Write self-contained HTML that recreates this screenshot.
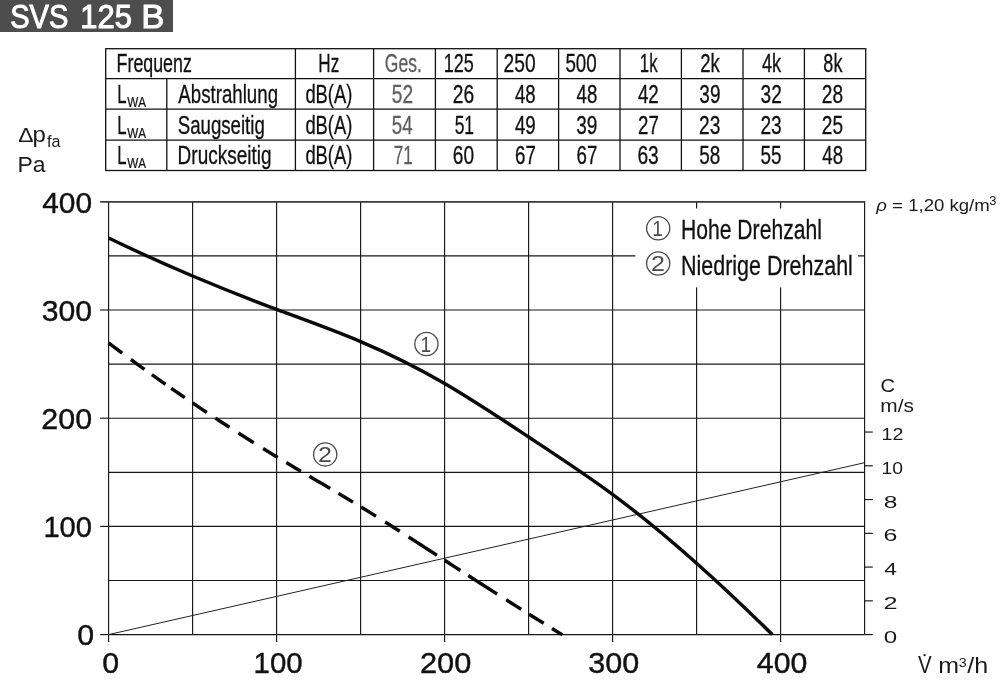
<!DOCTYPE html>
<html lang="de"><head><meta charset="utf-8"><title>SVS 125 B</title>
<style>html,body{margin:0;padding:0;background:#fff}body{width:1000px;height:688px;overflow:hidden}svg{display:block}text{font-family:"Liberation Sans",Arial,Helvetica,sans-serif;font-kerning:none;white-space:pre}</style>
</head><body>
<svg width="1000" height="688" viewBox="0 0 1000 688">
<rect x="0" y="0" width="1000" height="688" fill="#fff"/>
<rect x="0" y="0" width="173" height="32" fill="#4d4d4d"/>
<text y="27.5" font-size="33.5" fill="#fff" stroke="#fff" stroke-width="1.0"><tspan x="10.18" textLength="58.15" lengthAdjust="spacingAndGlyphs">SVS</tspan> <tspan x="80.24" textLength="51.66" lengthAdjust="spacingAndGlyphs">125</tspan> <tspan x="141.15" textLength="23.18" lengthAdjust="spacingAndGlyphs">B</tspan></text>
<g stroke="#111" stroke-width="1.3" fill="none">
<rect x="105.7" y="48.7" width="760.0" height="121.8"/>
<line x1="105.7" y1="78.6" x2="865.7" y2="78.6"/>
<line x1="105.7" y1="109.2" x2="865.7" y2="109.2"/>
<line x1="105.7" y1="140.2" x2="865.7" y2="140.2"/>
<line x1="295.4" y1="48.7" x2="295.4" y2="170.5"/>
<line x1="373.6" y1="48.7" x2="373.6" y2="170.5"/>
<line x1="435.4" y1="48.7" x2="435.4" y2="170.5"/>
<line x1="497.2" y1="48.7" x2="497.2" y2="170.5"/>
<line x1="558.6" y1="48.7" x2="558.6" y2="170.5"/>
<line x1="620" y1="48.7" x2="620" y2="170.5"/>
<line x1="681.4" y1="48.7" x2="681.4" y2="170.5"/>
<line x1="743" y1="48.7" x2="743" y2="170.5"/>
<line x1="804.4" y1="48.7" x2="804.4" y2="170.5"/>
<line x1="166.8" y1="78.6" x2="166.8" y2="170.5"/>
</g>
<text transform="translate(116.59 72.30) scale(0.7125 1)" font-size="25.0" fill="#111" stroke="#111" stroke-width="0.3">Frequenz</text>
<text transform="translate(318.34 72.30) scale(0.6860 1)" font-size="25.0" fill="#111" stroke="#111" stroke-width="0.3">Hz</text>
<text transform="translate(384.87 72.30) scale(0.7004 1)" font-size="25.0" fill="#5e5e5e" stroke="#5e5e5e" stroke-width="0.3">Ges.</text>
<text transform="translate(443.78 72.30) scale(0.7199 1)" font-size="25.0" fill="#111" stroke="#111" stroke-width="0.3">125</text>
<text transform="translate(503.58 72.30) scale(0.7675 1)" font-size="25.0" fill="#111" stroke="#111" stroke-width="0.3">250</text>
<text transform="translate(565.40 72.30) scale(0.7525 1)" font-size="25.0" fill="#111" stroke="#111" stroke-width="0.3">500</text>
<text transform="translate(639.87 72.30) scale(0.6725 1)" font-size="25.0" fill="#111" stroke="#111" stroke-width="0.3">1k</text>
<text transform="translate(700.22 72.30) scale(0.7426 1)" font-size="25.0" fill="#111" stroke="#111" stroke-width="0.3">2k</text>
<text transform="translate(761.93 72.30) scale(0.7307 1)" font-size="25.0" fill="#111" stroke="#111" stroke-width="0.3">4k</text>
<text transform="translate(823.37 72.30) scale(0.7218 1)" font-size="25.0" fill="#111" stroke="#111" stroke-width="0.3">8k</text>
<text transform="translate(117.27 103.10) scale(0.6713 1)" font-size="25.0" fill="#111" stroke="#111" stroke-width="0.3">L</text>
<text transform="translate(127.27 106.90) scale(0.7791 1)" font-size="15" fill="#111" stroke="#111" stroke-width="0.25">WA</text>
<text transform="translate(178.31 103.10) scale(0.7476 1)" font-size="25.0" fill="#111" stroke="#111" stroke-width="0.3">Abstrahlung</text>
<text transform="translate(305.38 103.10) scale(0.7357 1)" font-size="25.0" fill="#111" stroke="#111" stroke-width="0.3">dB(A)</text>
<text transform="translate(391.79 103.10) scale(0.7632 1)" font-size="25.0" fill="#5e5e5e" stroke="#5e5e5e" stroke-width="0.3">52</text>
<text transform="translate(452.79 103.10) scale(0.7662 1)" font-size="25.0" fill="#111" stroke="#111" stroke-width="0.3">26</text>
<text transform="translate(514.92 103.10) scale(0.7458 1)" font-size="25.0" fill="#111" stroke="#111" stroke-width="0.3">48</text>
<text transform="translate(576.52 103.10) scale(0.7458 1)" font-size="25.0" fill="#111" stroke="#111" stroke-width="0.3">48</text>
<text transform="translate(637.92 103.10) scale(0.7507 1)" font-size="25.0" fill="#111" stroke="#111" stroke-width="0.3">42</text>
<text transform="translate(699.33 103.10) scale(0.7596 1)" font-size="25.0" fill="#111" stroke="#111" stroke-width="0.3">39</text>
<text transform="translate(760.62 103.10) scale(0.7618 1)" font-size="25.0" fill="#111" stroke="#111" stroke-width="0.3">32</text>
<text transform="translate(821.79 103.10) scale(0.7658 1)" font-size="25.0" fill="#111" stroke="#111" stroke-width="0.3">28</text>
<text transform="translate(117.27 133.80) scale(0.6713 1)" font-size="25.0" fill="#111" stroke="#111" stroke-width="0.3">L</text>
<text transform="translate(127.27 137.60) scale(0.7791 1)" font-size="15" fill="#111" stroke="#111" stroke-width="0.25">WA</text>
<text transform="translate(177.70 133.80) scale(0.7465 1)" font-size="25.0" fill="#111" stroke="#111" stroke-width="0.3">Saugseitig</text>
<text transform="translate(305.38 133.80) scale(0.7357 1)" font-size="25.0" fill="#111" stroke="#111" stroke-width="0.3">dB(A)</text>
<text transform="translate(391.80 133.80) scale(0.7479 1)" font-size="25.0" fill="#5e5e5e" stroke="#5e5e5e" stroke-width="0.3">54</text>
<text transform="translate(454.65 133.80) scale(0.6996 1)" font-size="25.0" fill="#111" stroke="#111" stroke-width="0.3">51</text>
<text transform="translate(514.92 133.80) scale(0.7486 1)" font-size="25.0" fill="#111" stroke="#111" stroke-width="0.3">49</text>
<text transform="translate(576.23 133.80) scale(0.7596 1)" font-size="25.0" fill="#111" stroke="#111" stroke-width="0.3">39</text>
<text transform="translate(638.01 133.80) scale(0.7472 1)" font-size="25.0" fill="#111" stroke="#111" stroke-width="0.3">27</text>
<text transform="translate(699.09 133.80) scale(0.7662 1)" font-size="25.0" fill="#111" stroke="#111" stroke-width="0.3">23</text>
<text transform="translate(760.39 133.80) scale(0.7662 1)" font-size="25.0" fill="#111" stroke="#111" stroke-width="0.3">23</text>
<text transform="translate(821.79 133.80) scale(0.7647 1)" font-size="25.0" fill="#111" stroke="#111" stroke-width="0.3">25</text>
<text transform="translate(117.27 164.40) scale(0.6713 1)" font-size="25.0" fill="#111" stroke="#111" stroke-width="0.3">L</text>
<text transform="translate(127.27 168.20) scale(0.7791 1)" font-size="15" fill="#111" stroke="#111" stroke-width="0.25">WA</text>
<text transform="translate(177.59 164.40) scale(0.7601 1)" font-size="25.0" fill="#111" stroke="#111" stroke-width="0.3">Druckseitig</text>
<text transform="translate(305.38 164.40) scale(0.7357 1)" font-size="25.0" fill="#111" stroke="#111" stroke-width="0.3">dB(A)</text>
<text transform="translate(393.87 164.40) scale(0.6837 1)" font-size="25.0" fill="#5e5e5e" stroke="#5e5e5e" stroke-width="0.3">71</text>
<text transform="translate(452.78 164.40) scale(0.7629 1)" font-size="25.0" fill="#111" stroke="#111" stroke-width="0.3">60</text>
<text transform="translate(515.00 164.40) scale(0.7476 1)" font-size="25.0" fill="#111" stroke="#111" stroke-width="0.3">67</text>
<text transform="translate(576.60 164.40) scale(0.7476 1)" font-size="25.0" fill="#111" stroke="#111" stroke-width="0.3">67</text>
<text transform="translate(637.38 164.40) scale(0.7665 1)" font-size="25.0" fill="#111" stroke="#111" stroke-width="0.3">63</text>
<text transform="translate(699.29 164.40) scale(0.7582 1)" font-size="25.0" fill="#111" stroke="#111" stroke-width="0.3">58</text>
<text transform="translate(760.59 164.40) scale(0.7571 1)" font-size="25.0" fill="#111" stroke="#111" stroke-width="0.3">55</text>
<text transform="translate(822.32 164.40) scale(0.7458 1)" font-size="25.0" fill="#111" stroke="#111" stroke-width="0.3">48</text>
<g stroke="#161616" stroke-width="1.15" fill="none">
<line x1="108.60" y1="201.8" x2="108.60" y2="634.6"/>
<line x1="192.60" y1="201.8" x2="192.60" y2="634.6"/>
<line x1="276.60" y1="201.8" x2="276.60" y2="634.6"/>
<line x1="360.60" y1="201.8" x2="360.60" y2="634.6"/>
<line x1="444.60" y1="201.8" x2="444.60" y2="634.6"/>
<line x1="528.60" y1="201.8" x2="528.60" y2="634.6"/>
<line x1="612.60" y1="201.8" x2="612.60" y2="634.6"/>
<line x1="696.60" y1="201.8" x2="696.60" y2="634.6"/>
<line x1="780.60" y1="201.8" x2="780.60" y2="634.6"/>
<line x1="864.60" y1="201.8" x2="864.60" y2="634.6"/>
<line x1="108.6" y1="634.60" x2="864.6" y2="634.60"/>
<line x1="108.6" y1="580.50" x2="864.6" y2="580.50"/>
<line x1="108.6" y1="526.40" x2="864.6" y2="526.40"/>
<line x1="108.6" y1="472.30" x2="864.6" y2="472.30"/>
<line x1="108.6" y1="418.20" x2="864.6" y2="418.20"/>
<line x1="108.6" y1="364.10" x2="864.6" y2="364.10"/>
<line x1="108.6" y1="310.00" x2="864.6" y2="310.00"/>
<line x1="108.6" y1="255.90" x2="864.6" y2="255.90"/>
<line x1="100.2" y1="634.60" x2="108.6" y2="634.60"/>
<line x1="100.2" y1="526.40" x2="108.6" y2="526.40"/>
<line x1="100.2" y1="418.20" x2="108.6" y2="418.20"/>
<line x1="100.2" y1="310.00" x2="108.6" y2="310.00"/>
<line x1="108.60" y1="634.6" x2="108.60" y2="642"/>
<line x1="276.60" y1="634.6" x2="276.60" y2="642"/>
<line x1="444.60" y1="634.6" x2="444.60" y2="642"/>
<line x1="612.60" y1="634.6" x2="612.60" y2="642"/>
<line x1="780.60" y1="634.6" x2="780.60" y2="642"/>
<line x1="864.6" y1="634.60" x2="872.8" y2="634.60"/>
<line x1="864.6" y1="600.84" x2="872.8" y2="600.84"/>
<line x1="864.6" y1="567.08" x2="872.8" y2="567.08"/>
<line x1="864.6" y1="533.32" x2="872.8" y2="533.32"/>
<line x1="864.6" y1="499.56" x2="872.8" y2="499.56"/>
<line x1="864.6" y1="465.80" x2="872.8" y2="465.80"/>
<line x1="864.6" y1="432.04" x2="872.8" y2="432.04"/>
</g>
<line x1="100.2" y1="201.8" x2="865.15" y2="201.8" stroke="#3a3a3a" stroke-width="1.8"/>
<line x1="108.6" y1="634.6" x2="864.6" y2="462.7" stroke="#222" stroke-width="1"/>
<rect x="635.4" y="208.5" width="222.6" height="78.9" fill="#fff"/>
<path d="M108.60,238.00 C136.60,251.55 164.60,264.16 192.60,276.00 C220.60,287.84 248.60,298.92 276.60,309.40 C304.60,319.88 332.60,329.76 360.60,341.60 C388.60,353.44 416.60,367.25 444.60,383.50 C472.63,399.77 500.67,418.50 528.70,437.00 C556.63,455.43 584.57,473.63 612.50,494.30 C640.43,514.97 668.37,538.10 696.30,563.00 C721.63,585.58 746.97,609.62 772.30,634.60" fill="none" stroke="#0a0a0a" stroke-width="3.45"/>
<path d="M108.65,343.00 L113.17,346.38 L117.68,349.75 L122.20,353.10 M130.90,359.50 L135.43,362.80 L139.97,366.09 L144.50,369.36 M151.90,374.66 L156.43,377.88 L160.97,381.08 L165.50,384.27 M171.20,388.25 L175.73,391.39 L180.27,394.52 L184.80,397.63 M192.70,403.00 L197.40,406.17 L202.10,409.32 L206.80,412.45 M215.40,418.14 L220.10,421.22 L224.80,424.27 L229.50,427.31 M238.40,433.02 L243.50,436.26 L248.60,439.47 L253.70,442.67 M263.10,448.50 L267.97,451.49 L272.83,454.46 L277.70,457.40 M286.30,462.57 L291.20,465.49 L296.10,468.40 L301.00,471.30 M309.40,476.25 L313.56,478.70 L317.72,481.15 L321.88,483.60 L326.04,486.05 L330.20,488.50 M338.40,493.36 L343.27,496.26 L348.13,499.18 L353.00,502.11 M361.00,506.97 L366.00,510.04 L371.00,513.13 L376.00,516.24 M385.10,521.95 L390.00,525.05 L394.90,528.17 L399.80,531.30 M408.60,536.94 L412.64,539.55 L416.69,542.15 L420.73,544.77 L424.77,547.38 L428.81,550.00 L432.86,552.62 L436.90,555.24 M444.70,560.30 L449.93,563.69 L455.17,567.08 L460.40,570.46 M468.30,575.56 L472.41,578.21 L476.53,580.85 L480.64,583.50 L484.76,586.13 L488.87,588.77 L492.99,591.40 L497.10,594.02 M506.20,599.81 L511.20,602.98 L516.20,606.14 L521.20,609.29 M529.00,614.19 L533.90,617.25 L538.80,620.30 L543.70,623.34 M552.00,628.47 L557.25,631.69 L562.50,634.90" fill="none" stroke="#0a0a0a" stroke-width="3.45"/>
<circle cx="426.4" cy="344" r="11.6" fill="none" stroke="#4a4a4a" stroke-width="1.3"/>
<text transform="translate(420.45 351.80) scale(0.8645 1)" font-size="22" fill="#4a4a4a">1</text>
<circle cx="325.2" cy="454.4" r="11.6" fill="none" stroke="#4a4a4a" stroke-width="1.3"/>
<text transform="translate(318.04 462.30) scale(1.1374 1)" font-size="22" fill="#4a4a4a">2</text>
<circle cx="658.2" cy="228.3" r="11.6" fill="none" stroke="#4a4a4a" stroke-width="1.3"/>
<text transform="translate(652.25 236.10) scale(0.8645 1)" font-size="22" fill="#4a4a4a">1</text>
<circle cx="658.2" cy="263.5" r="11.6" fill="none" stroke="#4a4a4a" stroke-width="1.3"/>
<text transform="translate(651.04 271.40) scale(1.1374 1)" font-size="22" fill="#4a4a4a">2</text>
<text transform="translate(681.02 239.30) scale(0.7656 1)" font-size="27.6" fill="#111" stroke="#111" stroke-width="0.3">Hohe Drehzahl</text>
<text transform="translate(680.99 274.50) scale(0.7786 1)" font-size="27.6" fill="#111" stroke="#111" stroke-width="0.3">Niedrige Drehzahl</text>
<text transform="translate(77.32 645.40) scale(1.0317 1)" font-size="29.4" fill="#111" stroke="#111" stroke-width="0.4">0</text>
<text transform="translate(43.38 537.20) scale(0.9920 1)" font-size="29.4" fill="#111" stroke="#111" stroke-width="0.4">100</text>
<text transform="translate(41.37 429.00) scale(1.0339 1)" font-size="29.4" fill="#111" stroke="#111" stroke-width="0.4">200</text>
<text transform="translate(41.75 320.80) scale(1.0260 1)" font-size="29.4" fill="#111" stroke="#111" stroke-width="0.4">300</text>
<text transform="translate(42.21 212.60) scale(1.0163 1)" font-size="29.4" fill="#111" stroke="#111" stroke-width="0.4">400</text>
<text transform="translate(102.22 672.80) scale(1.0388 1)" font-size="29.2" fill="#111" stroke="#111" stroke-width="0.4">0</text>
<text transform="translate(253.56 672.80) scale(1.0076 1)" font-size="29.2" fill="#111" stroke="#111" stroke-width="0.4">100</text>
<text transform="translate(419.95 672.80) scale(1.0540 1)" font-size="29.2" fill="#111" stroke="#111" stroke-width="0.4">200</text>
<text transform="translate(588.34 672.80) scale(1.0459 1)" font-size="29.2" fill="#111" stroke="#111" stroke-width="0.4">300</text>
<text transform="translate(756.81 672.80) scale(1.0361 1)" font-size="29.2" fill="#111" stroke="#111" stroke-width="0.4">400</text>
<text transform="translate(883.86 642.70) scale(1.3987 1)" font-size="17.2" fill="#1a1a1a">0</text>
<text transform="translate(883.53 608.94) scale(1.4676 1)" font-size="17.2" fill="#1a1a1a">2</text>
<text transform="translate(884.28 575.18) scale(1.3268 1)" font-size="17.2" fill="#1a1a1a">4</text>
<text transform="translate(883.53 541.42) scale(1.4490 1)" font-size="17.2" fill="#1a1a1a">6</text>
<text transform="translate(883.73 507.66) scale(1.4249 1)" font-size="17.2" fill="#1a1a1a">8</text>
<text transform="translate(881.53 473.90) scale(1.1254 1)" font-size="17.2" fill="#1a1a1a">10</text>
<text transform="translate(881.51 440.14) scale(1.1382 1)" font-size="17.2" fill="#1a1a1a">12</text>
<text transform="translate(880.47 392.40) scale(1.1045 1)" font-size="18.3" fill="#1a1a1a">C</text>
<text transform="translate(880.31 412.40) scale(1.1412 1)" font-size="18.3" fill="#1a1a1a">m/s</text>
<text transform="translate(876.30 210.70) scale(1.0811 1)" font-size="17.2" fill="#1a1a1a"><tspan font-style="italic">ρ</tspan> = 1,20 kg/m</text>
<text transform="translate(989.31 205.20) scale(0.9601 1)" font-size="13.4" fill="#1a1a1a">3</text>
<text transform="translate(18.22 141.60) scale(1.1433 1)" font-size="20" fill="#1a1a1a">Δ</text>
<text transform="translate(32.45 141.60) scale(1.1170 1)" font-size="21.5" fill="#1a1a1a">p</text>
<text transform="translate(46.97 146.80) scale(0.9758 1)" font-size="16.5" fill="#1a1a1a">fa</text>
<text transform="translate(17.52 172.40) scale(1.0342 1)" font-size="22.2" fill="#1a1a1a">Pa</text>
<text transform="translate(917.91 672.50) scale(0.8841 1)" font-size="23.2" fill="#1a1a1a">V</text>
<circle cx="924.6" cy="655.2" r="1.15" fill="#1a1a1a"/>
<text transform="translate(938.34 672.50) scale(1.1200 1)" font-size="22.3" fill="#1a1a1a">m</text>
<text transform="translate(958.65 666.60) scale(1.0546 1)" font-size="13.6" fill="#1a1a1a">3</text>
<text transform="translate(967.20 672.50) scale(1.1254 1)" font-size="22.3" fill="#1a1a1a">/h</text>
</svg></body></html>
